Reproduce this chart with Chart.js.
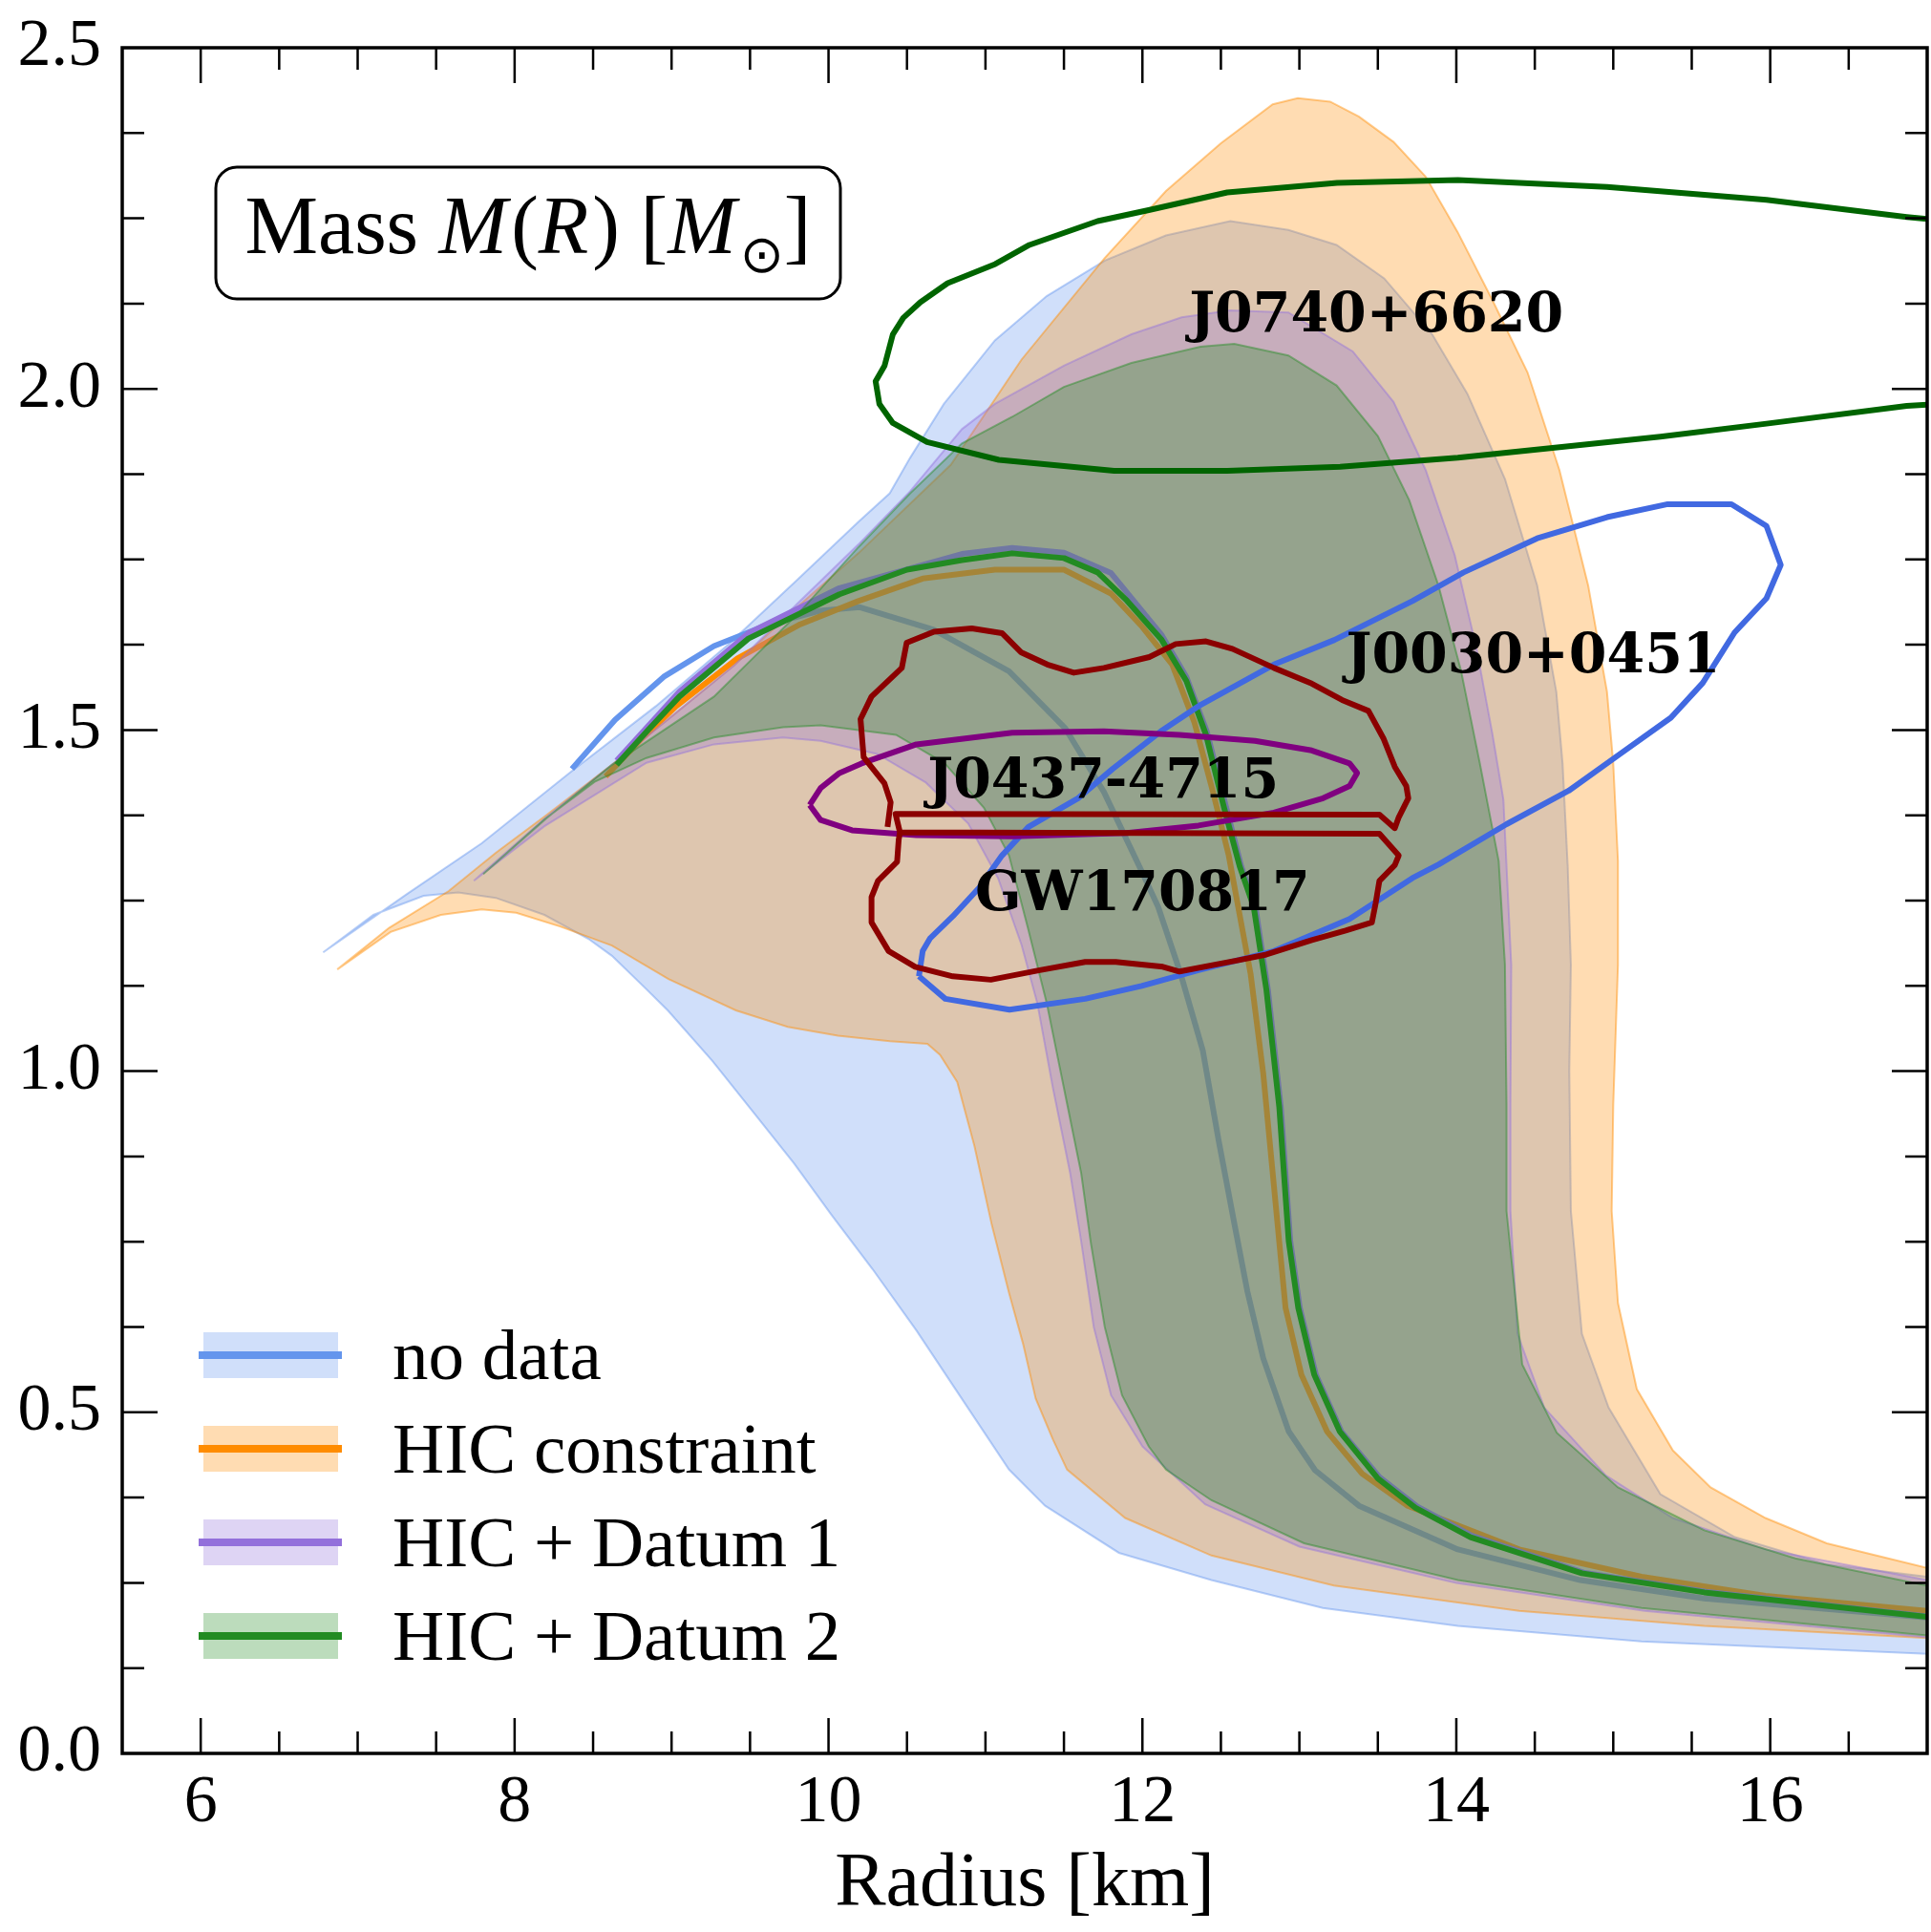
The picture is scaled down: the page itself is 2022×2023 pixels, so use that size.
<!DOCTYPE html>
<html>
<head>
<meta charset="utf-8">
<title>Mass-radius</title>
<script src="https://cdn.jsdelivr.net/npm/chart.js@4.4.0/dist/chart.umd.min.js"></script>
<style>
  html, body { margin: 0; padding: 0; background: #fff; }
  #wrap { width: 2022px; height: 2023px; position: relative; }
</style>
</head>
<body>
<div id="wrap"><canvas id="mr"></canvas></div>
<script>
// all points are [radius km, mass Msun]

// "no data" band: outer edge (left tip -> top -> right side), then inner edge back
const noDataUpper = [[6.78,1.174],[7.31,1.259],[7.79,1.334],[8.36,1.439],[8.9,1.535],[9.36,1.625],[9.8,1.72],[10.19,1.805],[10.39,1.847],[10.52,1.899],[10.735,1.978],[11.06,2.071],[11.39,2.136],[11.76,2.188],[12.15,2.225],[12.56,2.246],[12.93,2.233],[13.237,2.211],[13.54,2.162],[13.846,2.08],[14.07,1.993],[14.31,1.868],[14.515,1.712],[14.637,1.556],[14.677,1.451],[14.71,1.3],[14.73,1.156],[14.72,1.0],[14.73,0.795],[14.8,0.615],[14.97,0.507],[15.3,0.38],[15.775,0.317],[16.36,0.277],[17.0,0.259]];
const noDataLower = [[17.0,0.146],[15.18,0.164],[14.01,0.187],[13.15,0.213],[12.44,0.254],[11.85,0.294],[11.38,0.363],[11.15,0.416],[10.82,0.53],[10.56,0.62],[10.28,0.71],[10.02,0.789],[9.78,0.865],[9.52,0.94],[9.26,1.015],[8.976,1.089],[8.84,1.12],[8.62,1.169],[8.47,1.194],[8.19,1.229],[7.88,1.254],[7.64,1.262],[7.42,1.257],[7.1,1.229],[6.78,1.174]];
const noDataMedian = [[8.365,1.443],[8.64,1.515],[8.95,1.578],[9.27,1.623],[9.62,1.655],[9.95,1.675],[10.2,1.68],[10.67,1.647],[11.15,1.586],[11.51,1.502],[11.755,1.409],[11.995,1.293],[12.1,1.241],[12.243,1.143],[12.385,1.03],[12.486,0.898],[12.587,0.775],[12.669,0.677],[12.77,0.579],[12.932,0.472],[13.1,0.415],[13.38,0.363],[14.01,0.299],[14.79,0.254],[15.58,0.227],[17.0,0.199]];

// HIC constraint
const hicUpper = [[6.87,1.149],[7.2,1.21],[7.58,1.264],[7.88,1.32],[8.2,1.375],[8.62,1.449],[9.0,1.52],[9.4,1.595],[9.8,1.68],[10.19,1.759],[10.78,1.889],[11.23,2.043],[11.76,2.192],[12.15,2.29],[12.5,2.36],[12.83,2.417],[12.99,2.426],[13.196,2.421],[13.38,2.399],[13.6,2.362],[13.805,2.311],[14.008,2.23],[14.23,2.13],[14.454,2.024],[14.657,1.881],[14.84,1.712],[14.96,1.556],[15.0,1.451],[15.03,1.308],[15.03,1.156],[15.0,0.95],[14.99,0.795],[15.03,0.66],[15.15,0.534],[15.38,0.444],[15.62,0.39],[15.97,0.345],[16.36,0.308],[17.0,0.272]];
const hicLower = [[17.0,0.169],[15.58,0.187],[14.4,0.209],[13.22,0.246],[12.44,0.29],[11.89,0.345],[11.52,0.416],[11.43,0.46],[11.32,0.52],[11.24,0.6],[11.15,0.675],[11.04,0.775],[10.93,0.89],[10.82,0.984],[10.71,1.024],[10.63,1.04],[10.39,1.044],[10.06,1.052],[9.74,1.065],[9.41,1.089],[8.98,1.135],[8.62,1.184],[8.29,1.212],[8.01,1.232],[7.79,1.237],[7.53,1.229],[7.21,1.204],[6.87,1.149]];
const hicMedian = [[8.58,1.432],[8.8,1.485],[9.03,1.535],[9.42,1.605],[9.82,1.655],[10.19,1.689],[10.6,1.722],[11.06,1.735],[11.5,1.735],[11.8,1.7],[12.0,1.651],[12.19,1.596],[12.33,1.512],[12.45,1.409],[12.55,1.316],[12.61,1.241],[12.689,1.143],[12.77,0.996],[12.851,0.8],[12.912,0.653],[13.013,0.555],[13.176,0.472],[13.4,0.41],[13.69,0.363],[14.4,0.299],[15.18,0.259],[15.97,0.231],[17.0,0.209]];

// HIC + Datum 1
const d1Upper = [[7.74,1.279],[8.2,1.372],[8.62,1.449],[9.0,1.52],[9.4,1.595],[9.8,1.685],[10.19,1.772],[10.52,1.85],[10.85,1.941],[11.06,1.978],[11.5,2.034],[11.93,2.08],[12.25,2.105],[12.56,2.115],[12.93,2.112],[13.34,2.055],[13.6,1.981],[13.805,1.881],[13.99,1.756],[14.13,1.618],[14.23,1.494],[14.3,1.398],[14.35,1.156],[14.345,0.95],[14.345,0.795],[14.39,0.615],[14.56,0.507],[14.95,0.408],[15.38,0.345],[15.97,0.299],[17.0,0.254]];
const d1Lower = [[17.0,0.17],[15.2,0.209],[14.0,0.25],[13.0,0.303],[12.4,0.365],[12.0,0.45],[11.8,0.525],[11.69,0.625],[11.61,0.75],[11.54,0.85],[11.43,0.975],[11.33,1.1],[11.23,1.185],[11.08,1.283],[10.89,1.363],[10.62,1.423],[10.31,1.465],[9.95,1.484],[9.71,1.489],[9.27,1.479],[8.84,1.452],[8.19,1.359],[7.74,1.279]];
const d1Median = [[8.65,1.455],[9.05,1.556],[9.49,1.642],[10.07,1.708],[10.85,1.758],[11.17,1.767],[11.5,1.76],[11.8,1.73],[12.12,1.64],[12.28,1.578],[12.41,1.498],[12.53,1.39],[12.63,1.3],[12.72,1.241],[12.8,1.119],[12.882,0.947],[12.942,0.751],[13.003,0.653],[13.105,0.555],[13.267,0.472],[13.51,0.405],[13.75,0.362],[14.1,0.319],[14.81,0.265],[15.59,0.237],[17.0,0.201]];

// HIC + Datum 2
const d2Upper = [[7.8,1.289],[8.2,1.37],[8.62,1.449],[9.27,1.549],[9.82,1.674],[10.19,1.768],[10.52,1.847],[10.85,1.92],[11.17,1.959],[11.5,2.003],[11.93,2.038],[12.37,2.062],[12.585,2.066],[12.93,2.049],[13.237,2.005],[13.5,1.931],[13.7,1.837],[13.886,1.712],[14.03,1.587],[14.15,1.451],[14.27,1.308],[14.31,1.156],[14.32,0.95],[14.32,0.795],[14.42,0.57],[14.64,0.47],[15.03,0.39],[15.58,0.327],[16.16,0.286],[17.0,0.246]];
const d2Lower = [[17.0,0.173],[15.18,0.213],[14.01,0.254],[13.03,0.308],[12.44,0.371],[12.15,0.416],[12.04,0.45],[11.87,0.525],[11.76,0.625],[11.67,0.75],[11.61,0.85],[11.5,0.975],[11.39,1.1],[11.27,1.21],[11.15,1.316],[10.99,1.386],[10.74,1.451],[10.43,1.493],[9.95,1.507],[9.71,1.504],[9.27,1.489],[8.84,1.459],[8.51,1.424],[8.19,1.369],[7.8,1.289]];
const d2Median = [[8.65,1.449],[8.85,1.5],[9.05,1.549],[9.49,1.634],[10.07,1.699],[10.5,1.735],[10.85,1.749],[11.17,1.759],[11.5,1.752],[11.715,1.731],[11.9,1.69],[12.12,1.633],[12.28,1.572],[12.405,1.493],[12.52,1.386],[12.62,1.3],[12.709,1.241],[12.79,1.119],[12.872,0.947],[12.932,0.751],[12.993,0.653],[13.095,0.555],[13.257,0.472],[13.5,0.403],[13.74,0.36],[14.09,0.317],[14.8,0.264],[15.58,0.236],[17.0,0.2]];

// observational contours
const j0740 = [[17.0,2.249],[16.87,2.252],[15.976,2.277],[14.96,2.296],[14.01,2.306],[13.24,2.302],[12.54,2.288],[12.04,2.262],[11.715,2.246],[11.28,2.211],[11.063,2.183],[10.759,2.155],[10.585,2.127],[10.476,2.104],[10.41,2.08],[10.357,2.034],[10.3,2.011],[10.324,1.978],[10.41,1.95],[10.628,1.922],[11.085,1.896],[11.82,1.88],[12.54,1.88],[13.26,1.886],[14.01,1.899],[14.555,1.912],[15.3,1.93],[15.976,1.949],[16.87,1.975],[17.0,1.977]];
const j0030 = [[10.576,1.139],[10.6,1.176],[10.648,1.195],[10.792,1.227],[10.96,1.269],[11.105,1.316],[11.274,1.358],[11.59,1.4],[11.81,1.443],[12.117,1.498],[12.357,1.535],[12.838,1.596],[13.223,1.632],[13.72,1.689],[14.046,1.731],[14.515,1.781],[14.96,1.812],[15.347,1.831],[15.753,1.831],[15.976,1.799],[16.067,1.742],[15.976,1.693],[15.773,1.643],[15.57,1.569],[15.367,1.518],[15.044,1.465],[14.716,1.411],[14.32,1.362],[13.888,1.303],[13.72,1.283],[13.32,1.223],[12.838,1.176],[12.357,1.148],[11.995,1.125],[11.635,1.106],[11.153,1.09],[10.744,1.106],[10.576,1.139]];
const j0437 = [[9.88,1.39],[9.95,1.415],[10.07,1.437],[10.21,1.451],[10.56,1.479],[11.17,1.496],[11.755,1.498],[12.236,1.493],[12.717,1.484],[13.079,1.47],[13.32,1.451],[13.368,1.437],[13.32,1.418],[13.151,1.4],[12.838,1.379],[12.357,1.36],[11.9,1.349],[11.17,1.344],[10.56,1.346],[10.15,1.353],[9.95,1.368],[9.88,1.39]];
const gw170817 = [[10.376,1.358],[10.396,1.394],[10.356,1.422],[10.224,1.46],[10.204,1.516],[10.274,1.549],[10.467,1.591],[10.498,1.628],[10.672,1.644],[10.913,1.649],[11.105,1.642],[11.226,1.614],[11.394,1.596],[11.563,1.584],[11.755,1.591],[12.044,1.607],[12.212,1.626],[12.405,1.63],[12.573,1.619],[12.838,1.591],[13.079,1.568],[13.272,1.544],[13.44,1.528],[13.535,1.488],[13.608,1.446],[13.681,1.418],[13.694,1.4],[13.633,1.372],[13.608,1.356],[13.51,1.376],[10.427,1.377],[10.455,1.35],[13.51,1.348],[13.633,1.316],[13.608,1.302],[13.51,1.279],[13.486,1.246],[13.462,1.218],[13.295,1.206],[13.079,1.192],[12.79,1.171],[12.598,1.162],[12.236,1.146],[12.13,1.153],[11.83,1.16],[11.635,1.16],[11.346,1.148],[11.034,1.134],[10.792,1.139],[10.552,1.153],[10.383,1.176],[10.274,1.218],[10.274,1.255],[10.315,1.279],[10.437,1.307],[10.447,1.339],[10.455,1.35]];

const legendLabels = ['no data', 'HIC constraint', 'HIC + Datum 1', 'HIC + Datum 2'];
const bandColors = ['100,149,237', '255,140,0', '147,112,219', '34,139,34'];
const sourceNames = ['J0740+6620', 'J0030+0451', 'J0437-4715', 'GW170817'];
const sourceLabelAt = [[13.49,2.114], [14.49,1.614], [11.75,1.43], [12.0,1.266]];

const SERIF = '"Liberation Serif", "DejaVu Serif", serif';

function pts(arr) { return arr.map(([x, y]) => ({x, y})); }

function band(i, upper, lower, order) {
  return {
    label: legendLabels[i] + ' band',
    data: pts(upper.concat(lower)),
    fill: 'shape',
    backgroundColor: `rgba(${bandColors[i]},0.3)`,
    borderColor: `rgba(${bandColors[i]},0.45)`,
    borderWidth: 2,
    pointRadius: 0,
    order,
  };
}

function curve(label, arr, color, order) {
  return { label, data: pts(arr), fill: false, borderColor: color, borderWidth: 6, pointRadius: 0, order, borderJoinStyle: 'round' };
}

const datasets = [
  band(0, noDataUpper, noDataLower, 20),
  curve(legendLabels[0], noDataMedian, `rgb(${bandColors[0]})`, 19),
  band(1, hicUpper, hicLower, 18),
  curve(legendLabels[1], hicMedian, `rgb(${bandColors[1]})`, 17),
  band(2, d1Upper, d1Lower, 16),
  curve(legendLabels[2], d1Median, `rgb(${bandColors[2]})`, 15),
  band(3, d2Upper, d2Lower, 14),
  curve(legendLabels[3], d2Median, `rgb(${bandColors[3]})`, 13),
  curve(sourceNames[0], j0740, '#006400', 4),
  curve(sourceNames[1], j0030, '#4169e1', 3),
  curve(sourceNames[2], j0437, '#800080', 2),
  curve(sourceNames[3], gw170817, '#8b0000', 1),
];

// inward ticks on all four sides plus the frame
const frameTicks = {
  id: 'frameTicks',
  afterDatasetsDraw(chart) {
    const {ctx, chartArea: a, scales: {x, y}} = chart;
    ctx.save();
    ctx.strokeStyle = '#000';
    ctx.lineWidth = 2.5;
    ctx.beginPath();
    for (let k = 1; k < 23; k++) {
      const v = 5.5 + k * 0.5;
      const px = x.getPixelForValue(v);
      const len = Math.abs(v / 2 - Math.round(v / 2)) < 1e-6 ? 37 : 23;
      ctx.moveTo(px, a.bottom); ctx.lineTo(px, a.bottom - len);
      ctx.moveTo(px, a.top); ctx.lineTo(px, a.top + len);
    }
    for (let k = 1; k < 20; k++) {
      const v = k * 0.125;
      const py = y.getPixelForValue(v);
      const len = k % 4 === 0 ? 37 : 23;
      ctx.moveTo(a.left, py); ctx.lineTo(a.left + len, py);
      ctx.moveTo(a.right, py); ctx.lineTo(a.right - len, py);
    }
    ctx.stroke();
    ctx.lineWidth = 3.5;
    ctx.strokeRect(a.left, a.top, a.right - a.left, a.bottom - a.top);
    ctx.restore();
  }
};

// source names, quantity box and legend
const overlay = {
  id: 'overlay',
  afterDraw(chart) {
    const {ctx, chartArea: a, scales: {x, y}} = chart;
    ctx.save();

    ctx.fillStyle = '#000';
    ctx.font = 'bold 57px "DejaVu Serif", serif';
    ctx.textAlign = 'center';
    ctx.textBaseline = 'alphabetic';
    sourceNames.forEach((name, i) => {
      const [rx, my] = sourceLabelAt[i];
      ctx.fillText(name, x.getPixelForValue(rx), y.getPixelForValue(my) + 21);
    });

    // quantity box
    const bx = a.left + 98, by = a.top + 125, bw = 654, bh = 138, r = 22;
    ctx.beginPath();
    ctx.moveTo(bx + r, by);
    ctx.arcTo(bx + bw, by, bx + bw, by + bh, r);
    ctx.arcTo(bx + bw, by + bh, bx, by + bh, r);
    ctx.arcTo(bx, by + bh, bx, by, r);
    ctx.arcTo(bx, by, bx + bw, by, r);
    ctx.closePath();
    ctx.fillStyle = '#fff';
    ctx.fill();
    ctx.lineWidth = 3;
    ctx.strokeStyle = '#000';
    ctx.stroke();

    const up = `86px ${SERIF}`, it = `italic 86px ${SERIF}`, sub = '55px "DejaVu Sans", sans-serif';
    const parts = [['Mass ', up, 0], ['M', it, 0], ['(', up, 0], ['R', it, 0], [') [', up, 0], ['M', it, 0], ['\u2299', sub, 20], [']', up, 0]];
    let total = 0;
    parts.forEach(p => { ctx.font = p[1]; total += ctx.measureText(p[0]).width + (p[1] === it ? 4 : 0); });
    let cx = bx + (bw - total) / 2;
    const base = by + 90;
    ctx.fillStyle = '#000';
    ctx.textAlign = 'left';
    parts.forEach(p => {
      ctx.font = p[1];
      ctx.fillText(p[0], cx, base + p[2]);
      cx += ctx.measureText(p[0]).width + (p[1] === it ? 4 : 0);
    });

    // legend
    legendLabels.forEach((label, i) => {
      const ly = a.bottom - 417 + i * 98;
      ctx.fillStyle = `rgba(${bandColors[i]},0.3)`;
      ctx.fillRect(a.left + 85, ly - 24, 141, 48);
      ctx.strokeStyle = `rgb(${bandColors[i]})`;
      ctx.lineWidth = 8;
      ctx.beginPath();
      ctx.moveTo(a.left + 80, ly);
      ctx.lineTo(a.left + 230, ly);
      ctx.stroke();
      ctx.fillStyle = '#000';
      ctx.font = `75px ${SERIF}`;
      ctx.fillText(label, a.left + 283, ly + 25);
    });
    ctx.restore();
  }
};

new Chart(document.getElementById('mr'), {
  type: 'line',
  data: { datasets },
  options: {
    responsive: true,
    maintainAspectRatio: false,
    animation: false,
    events: [],
    layout: { padding: { top: 50, right: 4, left: 0, bottom: 0 } },
    plugins: { legend: { display: false }, tooltip: { enabled: false } },
    elements: { line: { tension: 0 }, point: { radius: 0 } },
    scales: {
      x: {
        type: 'linear',
        min: 5.5,
        max: 17,
        grid: { display: false, drawTicks: false },
        border: { display: false },
        ticks: { stepSize: 2, includeBounds: false, maxRotation: 0, padding: 11, color: '#000', font: { family: SERIF, size: 70 } },
        title: { display: true, text: 'Radius [km]', color: '#000', font: { family: SERIF, size: 80 }, padding: { top: 0, bottom: 1 } },
        afterFit(s) { s.height = 187; s.paddingLeft = 0; s.paddingRight = 0; },
      },
      y: {
        type: 'linear',
        min: 0,
        max: 2.5,
        grid: { display: false, drawTicks: false },
        border: { display: false },
        ticks: { stepSize: 0.5, padding: 22, color: '#000', font: { family: SERIF, size: 70 }, callback: (v) => Number(v).toFixed(1) },
        afterFit(s) { s.width = 128; s.paddingTop = 0; s.paddingBottom = 0; },
      },
    },
  },
  plugins: [frameTicks, overlay],
});
</script>
</body>
</html>
